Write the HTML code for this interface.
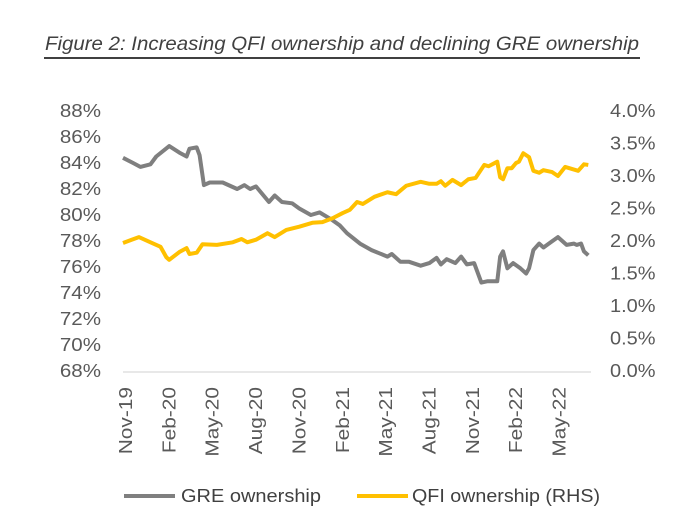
<!DOCTYPE html>
<html><head><meta charset="utf-8"><style>
body{margin:0;background:#fff;width:698px;height:526px;overflow:hidden;font-family:"Liberation Sans",sans-serif}
</style></head><body>
<svg width="698" height="526" xmlns="http://www.w3.org/2000/svg">
<text x="45" y="50" font-size="19" font-style="italic" fill="#404040" textLength="594" lengthAdjust="spacingAndGlyphs" font-family="Liberation Sans, sans-serif">Figure 2: Increasing QFI ownership and declining GRE ownership</text>
<line x1="44" y1="58" x2="640" y2="58" stroke="#404040" stroke-width="2"/>
<line x1="123" y1="372" x2="591" y2="372" stroke="#d9d9d9" stroke-width="1.3"/>
<g id="g" font-family="Liberation Sans, sans-serif"></g>
<line x1="124" y1="496" x2="175" y2="496" stroke="#7f7f7f" stroke-width="4"/>
<text x="181" y="502" font-size="18" fill="#404040" textLength="140" lengthAdjust="spacingAndGlyphs">GRE ownership</text>
<line x1="357" y1="496" x2="408" y2="496" stroke="#ffc000" stroke-width="4"/>
<text x="412" y="502" font-size="18" fill="#404040" textLength="188" lengthAdjust="spacingAndGlyphs">QFI ownership (RHS)</text>
</svg>
<script>
const leftTicks=[68,70,72,74,76,78,80,82,84,86,88];
const rightTicks=[0,0.5,1,1.5,2,2.5,3,3.5,4];
const xLabels=["Nov-19","Feb-20","May-20","Aug-20","Nov-20","Feb-21","May-21","Aug-21","Nov-21","Feb-22","May-22"];
const greMonths=[0,0.7,1.2,1.9,2.3,3.2,3.9,4.4,4.6,5.1,5.3,5.6,6.0,6.9,7.9,8.4,8.8,9.2,10.1,10.5,11.0,11.7,12.2,13.0,13.6,14.5,15.0,15.5,16.4,17.2,18.3,18.6,19.2,19.8,20.6,21.2,21.7,22.0,22.4,23.0,23.4,23.8,24.3,24.8,25.2,25.9,26.1,26.3,26.6,27.0,27.5,27.9,28.1,28.4,28.8,29.1,29.6,30.1,30.7,31.2,31.4,31.7,31.9,32.2];
const greValues=[84.4,84.0,83.7,83.9,84.5,85.3,84.8,84.5,85.1,85.2,84.6,82.3,82.5,82.5,82.0,82.3,82.0,82.2,81.0,81.5,81.0,80.9,80.5,80.0,80.2,79.6,79.2,78.6,77.8,77.3,76.8,77.0,76.4,76.4,76.1,76.3,76.7,76.2,76.6,76.3,76.8,76.2,76.3,74.8,74.9,74.9,76.8,77.2,75.9,76.3,75.9,75.5,75.9,77.3,77.8,77.5,77.9,78.3,77.7,77.8,77.7,77.8,77.2,76.9];
const qfiMonths=[0,0.6,1.1,1.9,2.6,3.0,3.2,3.9,4.4,4.6,5.1,5.5,6.5,7.6,8.2,8.6,9.2,10.0,10.5,11.3,12.2,13.1,13.8,14.5,15.2,15.7,16.2,16.6,17.4,18.3,18.9,19.6,20.6,21.2,21.7,22.0,22.3,22.8,23.4,23.9,24.4,25.0,25.3,25.9,26.1,26.3,26.6,26.9,27.2,27.4,27.7,28.1,28.4,28.8,29.1,29.7,30.1,30.6,31.5,31.9,32.2];
const qfiValues=[1.97,2.02,2.06,1.98,1.91,1.75,1.71,1.83,1.89,1.80,1.82,1.95,1.94,1.98,2.03,1.98,2.02,2.12,2.06,2.17,2.22,2.28,2.29,2.35,2.43,2.48,2.60,2.57,2.68,2.75,2.72,2.85,2.91,2.88,2.88,2.92,2.85,2.94,2.86,2.95,2.97,3.17,3.15,3.22,2.98,2.95,3.12,3.12,3.20,3.22,3.35,3.29,3.08,3.05,3.09,3.06,3.00,3.14,3.08,3.18,3.17];
const ns="http://www.w3.org/2000/svg";
const g=document.getElementById('g');
const xS=m=>123+m*14.45;
const yL=v=>371-(v-68)*13;
const yR=v=>371-v*65;
function mk(t,a){const e=document.createElementNS(ns,t);for(const k in a)e.setAttribute(k,a[k]);g.appendChild(e);return e;}
function stretch(t,f){const w=t.getComputedTextLength();t.setAttribute('textLength',(w*f).toFixed(1));t.setAttribute('lengthAdjust','spacingAndGlyphs');}
leftTicks.forEach(v=>{const t=mk('text',{x:101,y:yL(v)+6,'font-size':18,fill:'#595959','text-anchor':'end'});t.textContent=v+'%';stretch(t,1.14);

});
rightTicks.forEach(v=>{const t=mk('text',{x:610,y:yR(v)+6,'font-size':18,fill:'#595959'});t.textContent=v.toFixed(1)+'%';stretch(t,1.11);

});
xLabels.forEach((s,i)=>{const x=xS(i*3)+9;const t=mk('text',{x:0,y:0,'font-size':18,fill:'#595959','text-anchor':'end',transform:`translate(${x},387) rotate(-90)`});t.textContent=s;stretch(t,1.16);

});
const gp=mk('polyline',{points:greMonths.map((m,i)=>xS(m)+','+yL(greValues[i])).join(' '),fill:'none',stroke:'#7f7f7f','stroke-width':4,'stroke-linejoin':'round'});


const qp=mk('polyline',{points:qfiMonths.map((m,i)=>xS(m)+','+yR(qfiValues[i])).join(' '),fill:'none',stroke:'#ffc000','stroke-width':4,'stroke-linejoin':'round'});


</script>
</body></html>
